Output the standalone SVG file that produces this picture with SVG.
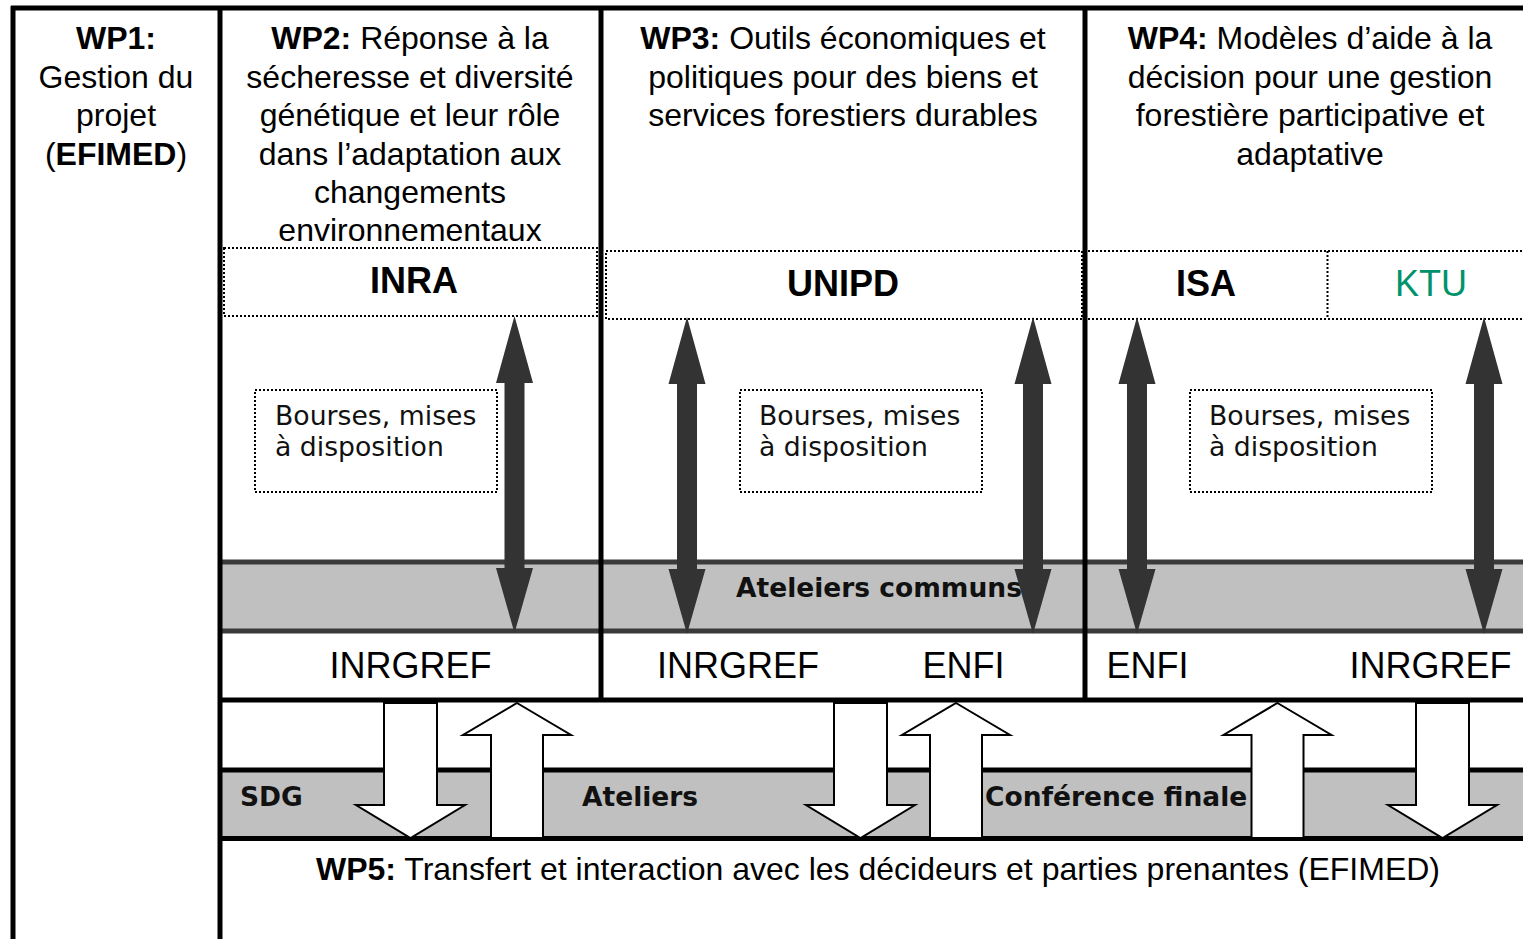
<svg xmlns="http://www.w3.org/2000/svg" width="1523" height="939" viewBox="0 0 1523 939">
<style>
.hd{font-family:"Liberation Sans",Arial,sans-serif;font-size:32px;fill:#000;text-anchor:middle}
.b{font-weight:bold}
.pt{font-family:"Liberation Sans",Arial,sans-serif;font-size:36px;text-anchor:middle}
.bo{font-family:"DejaVu Sans",Verdana,sans-serif;font-size:26.7px;fill:#111}
.bl{font-family:"DejaVu Sans",Verdana,sans-serif;font-size:26.5px;font-weight:bold;fill:#111}
.dot{fill:none;stroke:#000;stroke-width:2;stroke-dasharray:2 2}
.thick{stroke:#000;stroke-width:5;fill:none}
.dk{fill:#333}
.wa{fill:#fff;stroke:#000;stroke-width:2}
</style>
<defs>
<path id="dbl" d="M0,0 L18.5,67 H10 V252 H18.5 L0,317 L-18.5,252 H-10 V67 H-18.5 Z"/>
<path id="dn" d="M-26.5,0 H26.5 V102 H54.5 L0,135 L-54.5,102 H-26.5 Z"/>
<path id="up" d="M0,0 L54,32 H26 V135 H-26 V32 H-54 Z"/>
</defs>
<rect width="1523" height="939" fill="#fff"/>

<g id="bands">
<rect x="219" y="562" width="1304" height="69" fill="#c0c0c0"/>
<line x1="219" y1="562" x2="1523" y2="562" stroke="#3a3a3a" stroke-width="5"/>
<line x1="219" y1="631" x2="1523" y2="631" stroke="#3a3a3a" stroke-width="5"/>
<rect x="219" y="770" width="1304" height="68" fill="#c0c0c0"/>
</g>

<g id="frame">
<line class="thick" x1="11" y1="8" x2="1523" y2="8"/>
<line class="thick" x1="13" y1="6" x2="13" y2="939"/>
<line class="thick" x1="220" y1="6" x2="220" y2="939"/>
<line class="thick" x1="601" y1="6" x2="601" y2="702"/>
<line class="thick" x1="1085" y1="6" x2="1085" y2="702"/>
<line class="thick" x1="218" y1="700" x2="1523" y2="700"/>
<line class="thick" x1="218" y1="770" x2="1523" y2="770"/>
<line class="thick" x1="218" y1="838.5" x2="1523" y2="838.5"/>
</g>

<g id="wp1">
<text class="hd" x="116" y="49"><tspan class="b">WP1:</tspan></text>
<text class="hd" x="116" y="87.5">Gestion du</text>
<text class="hd" x="116" y="126">projet</text>
<text class="hd" x="116" y="164.5">(<tspan class="b">EFIMED</tspan>)</text>
</g>

<g id="wp2">
<text class="hd" x="410" y="49"><tspan class="b">WP2:</tspan> Réponse à la</text>
<text class="hd" x="410" y="87.5">sécheresse et diversité</text>
<text class="hd" x="410" y="126">génétique et leur rôle</text>
<text class="hd" x="410" y="164.5">dans l’adaptation aux</text>
<text class="hd" x="410" y="203">changements</text>
<text class="hd" x="410" y="241">environnementaux</text>
</g>

<g id="wp3">
<text class="hd" x="843" y="49"><tspan class="b">WP3:</tspan> Outils économiques et</text>
<text class="hd" x="843" y="87.5">politiques pour des biens et</text>
<text class="hd" x="843" y="126">services forestiers durables</text>
</g>

<g id="wp4">
<text class="hd" x="1310" y="49"><tspan class="b">WP4:</tspan> Modèles d’aide à la</text>
<text class="hd" x="1310" y="87.5">décision pour une gestion</text>
<text class="hd" x="1310" y="126">forestière participative et</text>
<text class="hd" x="1310" y="164.5">adaptative</text>
</g>

<g id="inra">
<rect class="dot" x="224" y="248" width="373" height="68"/>
<text class="pt b" x="414" y="293">INRA</text>
</g>
<g id="unipd">
<rect class="dot" x="606" y="251" width="476" height="68"/>
<text class="pt b" x="843" y="296">UNIPD</text>
</g>
<g id="isa">
<path class="dot" d="M1088,251 H1523 M1088,319 H1523 M1327.5,251 V319"/>
<text class="pt b" x="1206" y="296">ISA</text>
</g>
<g id="ktu">
<text class="pt" x="1431" y="296" fill="#00936b">KTU</text>
</g>

<g id="bourses2">
<rect class="dot" x="255" y="390" width="242" height="102"/>
<text class="bo" x="275" y="425">Bourses, mises</text>
<text class="bo" x="275" y="456">à disposition</text>
</g>
<g id="bourses3">
<rect class="dot" x="740" y="390" width="242" height="102"/>
<text class="bo" x="759" y="425">Bourses, mises</text>
<text class="bo" x="759" y="456">à disposition</text>
</g>
<g id="bourses4">
<rect class="dot" x="1190" y="390" width="242" height="102"/>
<text class="bo" x="1209" y="425">Bourses, mises</text>
<text class="bo" x="1209" y="456">à disposition</text>
</g>

<g id="ateliers-communs">
<text class="bl" x="736" y="597">Ateleiers communs</text>
</g>

<g id="partners-row">
<text class="pt" x="410.5" y="678">INRGREF</text>
<text class="pt" x="738" y="678">INRGREF</text>
<text class="pt" x="963.5" y="678">ENFI</text>
<text class="pt" x="1147.5" y="678">ENFI</text>
<text class="pt" x="1430.5" y="678">INRGREF</text>
</g>

<g id="events">
<text class="bl" x="240" y="806">SDG</text>
<text class="bl" x="582" y="806">Ateliers</text>
<text class="bl" x="985" y="806">Conférence finale</text>
</g>

<g id="wp5">
<text class="hd" x="878" y="880"><tspan class="b">WP5:</tspan> Transfert et interaction avec les décideurs et parties prenantes (EFIMED)</text>
</g>

<g id="connectors">
<use href="#dbl" class="dk" transform="translate(514.5,316)"/>
<use href="#dbl" class="dk" transform="translate(687,317)"/>
<use href="#dbl" class="dk" transform="translate(1033,317)"/>
<use href="#dbl" class="dk" transform="translate(1137,317)"/>
<use href="#dbl" class="dk" transform="translate(1484,317)"/>
<use href="#dn" class="wa" transform="translate(410.5,703)"/>
<use href="#up" class="wa" transform="translate(517,703)"/>
<use href="#dn" class="wa" transform="translate(860.5,703)"/>
<use href="#up" class="wa" transform="translate(956,703)"/>
<use href="#up" class="wa" transform="translate(1277.5,703)"/>
<use href="#dn" class="wa" transform="translate(1442.5,703)"/>
</g>
</svg>
